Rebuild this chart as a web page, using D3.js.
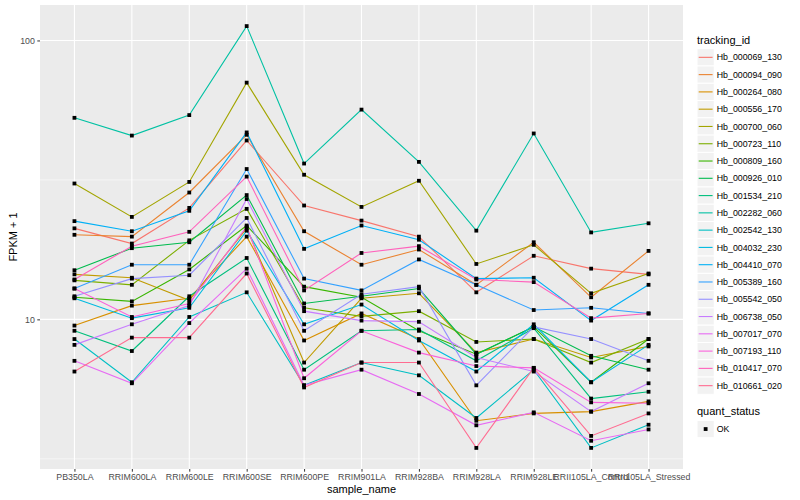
<!DOCTYPE html>
<html>
<head>
<meta charset="utf-8">
<script src="https://cdn.jsdelivr.net/npm/d3@7"></script>
<style>
  body { margin: 0; background: #fff; }
  svg { font-family: "Liberation Sans", Arial, Helvetica, sans-serif; }
</style>
</head>
<body>
<svg width="800" height="500"></svg>
<script>
// FPKM + 1 per gene across rubber tree samples (log scale line chart)

const samples = [
  "PB350LA", "RRIM600LA", "RRIM600LE", "RRIM600SE", "RRIM600PE", "RRIM901LA",
  "RRIM928BA", "RRIM928LA", "RRIM928LE", "RRII105LA_Control", "RRII105LA_Stressed",
];

const trackingIds = [
  "Hb_000069_130", "Hb_000094_090", "Hb_000264_080", "Hb_000556_170", "Hb_000700_060",
  "Hb_000723_110", "Hb_000809_160", "Hb_000926_010", "Hb_001534_210", "Hb_002282_060",
  "Hb_002542_130", "Hb_004032_230", "Hb_004410_070", "Hb_005389_160", "Hb_005542_050",
  "Hb_006738_050", "Hb_007017_070", "Hb_007193_110", "Hb_010417_070", "Hb_010661_020",
];

// one row per tracking_id, one value per sample
const fpkmPlusOne = [
  [21.2, 18.7, 25.1, 43.8, 25.6, 22.6, 19.8, 12.5, 16.9, 15.2, 14.5],
  [20.1, 19.8, 28.5, 45.9, 20.7, 15.7, 17.8, 13.3, 18.9, 12.0, 17.6],
  [9.5, 11.2, 11.9, 19.8, 8.4, 10.5, 8.5, 4.33, 4.6, 4.67, 5.08],
  [14.5, 14.1, 11.7, 21.2, 7.0, 11.9, 12.4, 7.6, 8.5, 7.3, 8.0],
  [30.7, 23.3, 31.1, 70.6, 33.0, 25.3, 31.4, 15.8, 18.5, 12.4, 14.6],
  [13.8, 13.3, 19.2, 24.9, 11.0, 10.25, 10.7, 8.3, 8.5, 7.0, 8.5],
  [12.0, 11.6, 15.1, 21.7, 13.1, 12.0, 9.1, 7.5, 9.4, 5.95, 8.5],
  [15.0, 18.0, 18.9, 27.9, 11.4, 12.1, 12.9, 7.5, 9.4, 7.4, 6.6],
  [9.1, 7.7, 12.1, 16.6, 6.6, 9.1, 9.2, 7.1, 9.3, 5.2, 5.5],
  [52.8, 45.6, 54.0, 112.6, 36.2, 56.5, 36.7, 20.8, 46.4, 20.5, 22.1],
  [8.5, 5.95, 10.2, 12.5, 5.8, 7.0, 6.3, 4.43, 6.6, 3.46, 4.19],
  [11.9, 10.1, 11.0, 20.8, 9.6, 11.3, 8.4, 6.5, 9.6, 5.95, 8.1],
  [22.5, 20.7, 24.5, 46.8, 17.9, 21.7, 19.3, 14.0, 14.1, 9.9, 13.3],
  [12.9, 15.7, 15.7, 34.6, 14.0, 12.7, 16.4, 13.3, 10.8, 11.0, 10.5],
  [12.1, 14.0, 14.4, 23.1, 9.1, 12.3, 13.1, 5.8, 9.4, 8.5, 7.1],
  [8.1, 9.6, 11.2, 27.0, 10.7, 9.9, 9.8, 7.3, 6.5, 4.67, 5.9],
  [7.1, 5.9, 9.7, 15.2, 5.8, 6.6, 5.4, 4.17, 4.64, 3.67, 4.03],
  [12.9, 10.2, 11.4, 21.5, 6.15, 9.1, 7.6, 6.8, 6.7, 5.04, 5.0],
  [13.9, 18.3, 20.6, 32.5, 12.7, 17.3, 18.3, 13.9, 13.6, 10.1, 10.5],
  [6.5, 8.6, 8.6, 14.6, 5.7, 7.0, 7.0, 3.46, 6.7, 3.82, 4.6],
];

const quantStatus = ["OK"];
const yTicks = [10, 100];

const palette = [
  "#F8766D", "#EA8331", "#D89000", "#C09B00", "#A3A500", "#7CAE00", "#39B600",
  "#00BB4E", "#00BF7D", "#00C1A3", "#00BFC4", "#00BAE0", "#00B0F6", "#35A2FF",
  "#9590FF", "#C77CFF", "#E76BF3", "#FA62DB", "#FF62BC", "#FF6C91",
];

const panel = { left: 40, right: 683, top: 5, bottom: 469 };
const svg = d3.select("svg");

// scales
const xScale = d3
  .scalePoint()
  .domain(samples)
  .range([panel.left, panel.right])
  .padding(0.6);

const allValues = fpkmPlusOne.flat();
const lmin = Math.log10(d3.min(allValues));
const lmax = Math.log10(d3.max(allValues));
const pad = (lmax - lmin) * 0.05;
const yScale = d3
  .scaleLog()
  .domain([Math.pow(10, lmin - pad), Math.pow(10, lmax + pad)])
  .range([panel.bottom, panel.top]);

// panel background + grid
svg
  .append("rect")
  .attr("x", panel.left)
  .attr("y", panel.top)
  .attr("width", panel.right - panel.left)
  .attr("height", panel.bottom - panel.top)
  .attr("fill", "#EBEBEB");

const minorTicks = [Math.sqrt(10), Math.sqrt(1000)];
svg
  .selectAll(".minor")
  .data(minorTicks)
  .enter()
  .append("line")
  .attr("x1", panel.left)
  .attr("x2", panel.right)
  .attr("y1", (d) => yScale(d))
  .attr("y2", (d) => yScale(d))
  .attr("stroke", "#fff")
  .attr("stroke-width", 0.55);

svg
  .selectAll(".majorY")
  .data(yTicks)
  .enter()
  .append("line")
  .attr("x1", panel.left)
  .attr("x2", panel.right)
  .attr("y1", (d) => yScale(d))
  .attr("y2", (d) => yScale(d))
  .attr("stroke", "#fff")
  .attr("stroke-width", 1.1);

svg
  .selectAll(".majorX")
  .data(samples)
  .enter()
  .append("line")
  .attr("x1", (d) => xScale(d))
  .attr("x2", (d) => xScale(d))
  .attr("y1", panel.top)
  .attr("y2", panel.bottom)
  .attr("stroke", "#fff")
  .attr("stroke-width", 1.1);

// lines
const line = d3
  .line()
  .x((d, i) => xScale(samples[i]))
  .y((d) => yScale(d));

svg
  .append("g")
  .selectAll("path")
  .data(fpkmPlusOne)
  .enter()
  .append("path")
  .attr("d", (d) => line(d))
  .attr("fill", "none")
  .attr("stroke", (d, i) => palette[i])
  .attr("stroke-width", 1.1);

// points
const pts = [];
fpkmPlusOne.forEach((row) => {
  row.forEach((v, j) => pts.push({ sample: samples[j], value: v }));
});
const ps = 3.8;
svg
  .append("g")
  .selectAll("rect")
  .data(pts)
  .enter()
  .append("rect")
  .attr("x", (d) => xScale(d.sample) - ps / 2)
  .attr("y", (d) => yScale(d.value) - ps / 2)
  .attr("width", ps)
  .attr("height", ps)
  .attr("fill", "#000");

// axes
const xAxis = d3.axisBottom(xScale).tickSize(2.7).tickPadding(2.5);
const gx = svg
  .append("g")
  .attr("transform", "translate(0," + panel.bottom + ")")
  .call(xAxis);

const yAxis = d3
  .axisLeft(yScale)
  .tickValues(yTicks)
  .tickFormat(d3.format("d"))
  .tickSize(2.7)
  .tickPadding(2.5);
const gy = svg
  .append("g")
  .attr("transform", "translate(" + panel.left + ",0)")
  .call(yAxis);

[gx, gy].forEach((g) => {
  g.select(".domain").remove();
  g.selectAll(".tick line").attr("stroke", "#333").attr("stroke-width", 1);
  g.selectAll(".tick text")
    .attr("fill", "#4D4D4D")
    .style("font-size", "8.8px")
    .style("font-family", "Liberation Sans, Arial, sans-serif");
});

svg
  .append("text")
  .attr("x", (panel.left + panel.right) / 2)
  .attr("y", 493)
  .attr("text-anchor", "middle")
  .style("font-size", "11px")
  .text("sample_name");

svg
  .append("text")
  .attr("transform", "translate(17," + (panel.top + panel.bottom) / 2 + ") rotate(-90)")
  .attr("text-anchor", "middle")
  .style("font-size", "11px")
  .text("FPKM + 1");

// legend: tracking_id
const keySize = 17.28;
const legendX = 697;
const legendTop = 48.7;

svg
  .append("text")
  .attr("x", legendX)
  .attr("y", 44)
  .style("font-size", "11px")
  .text("tracking_id");

const items = svg
  .append("g")
  .selectAll("g")
  .data(trackingIds)
  .enter()
  .append("g")
  .attr("transform", (d, i) => "translate(" + legendX + "," + (legendTop + i * keySize) + ")");

items
  .append("rect")
  .attr("width", keySize)
  .attr("height", keySize)
  .attr("fill", "#F2F2F2")
  .attr("stroke", "#fff")
  .attr("stroke-width", 1);

items
  .append("line")
  .attr("x1", 1.7)
  .attr("x2", keySize - 1.7)
  .attr("y1", keySize / 2)
  .attr("y2", keySize / 2)
  .attr("stroke", (d, i) => palette[i])
  .attr("stroke-width", 1.1);

items
  .append("text")
  .attr("x", keySize + 2.5)
  .attr("y", keySize / 2 + 3.1)
  .style("font-size", "8.8px")
  .text((d) => d);

// legend: quant_status
svg
  .append("text")
  .attr("x", legendX)
  .attr("y", 415)
  .style("font-size", "11px")
  .text("quant_status");

const qs = svg
  .append("g")
  .selectAll("g")
  .data(quantStatus)
  .enter()
  .append("g")
  .attr("transform", (d, i) => "translate(" + legendX + "," + (420.4 + i * keySize) + ")");

qs.append("rect")
  .attr("width", keySize)
  .attr("height", keySize)
  .attr("fill", "#F2F2F2")
  .attr("stroke", "#fff");

qs.append("rect")
  .attr("x", keySize / 2 - ps / 2)
  .attr("y", keySize / 2 - ps / 2)
  .attr("width", ps)
  .attr("height", ps)
  .attr("fill", "#000");

qs.append("text")
  .attr("x", keySize + 2.5)
  .attr("y", keySize / 2 + 3.1)
  .style("font-size", "8.8px")
  .text((d) => d);
</script>
</body>
</html>
